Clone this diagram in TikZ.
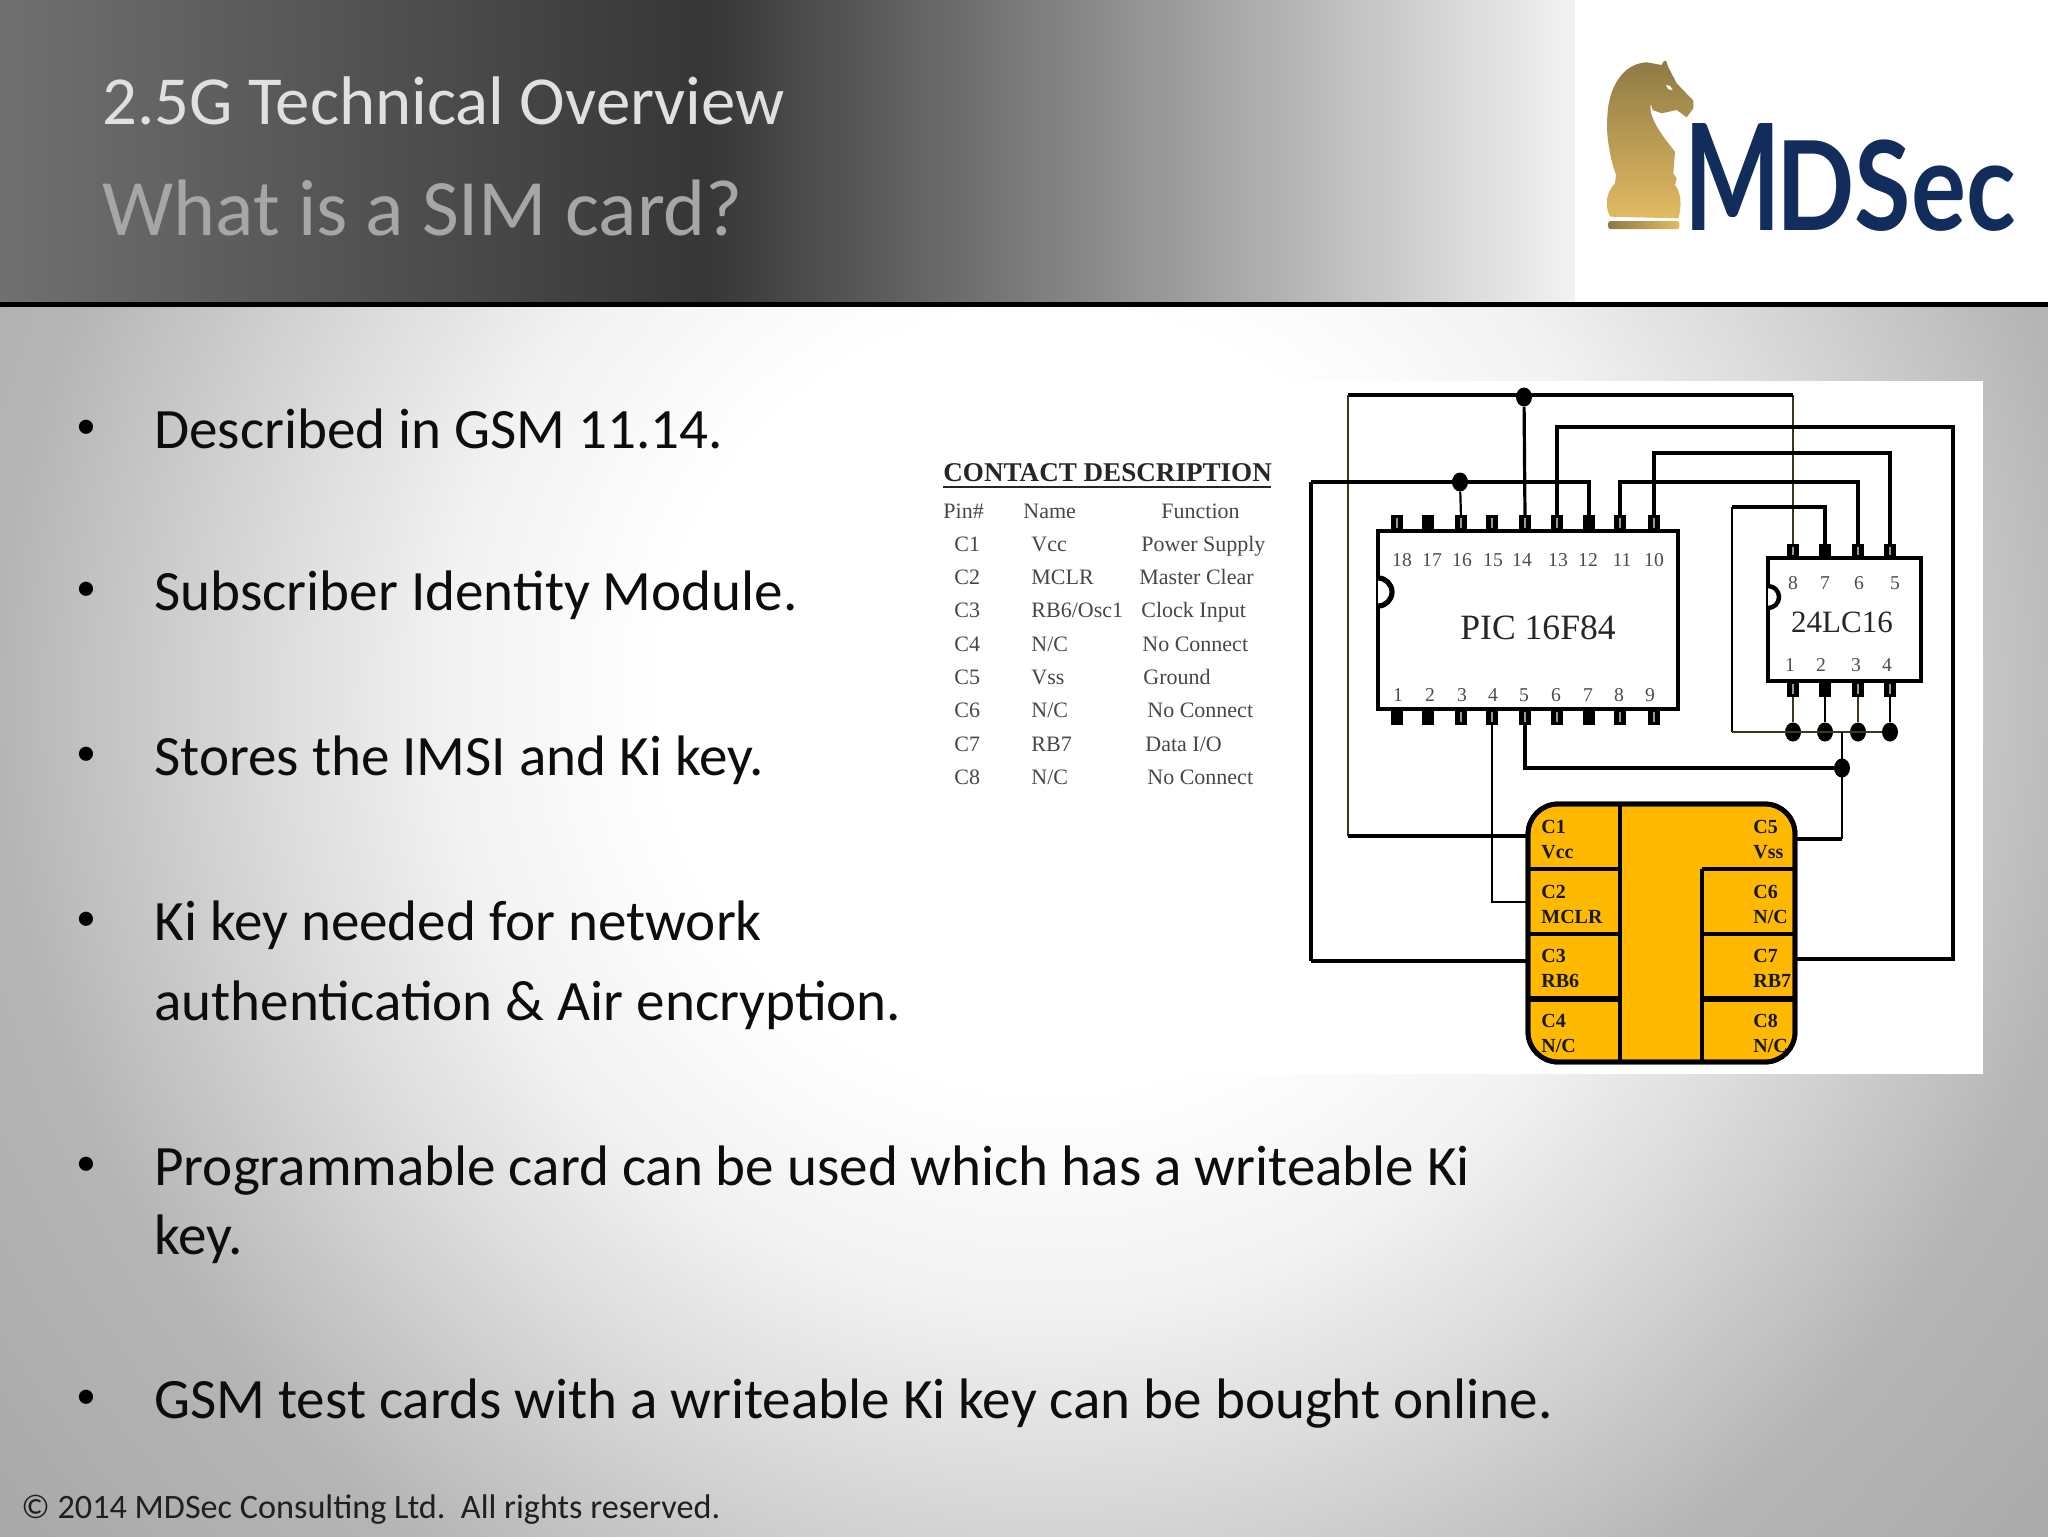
\documentclass[tikz,border=0pt]{standalone}
\usepackage{fontspec}
\setmainfont{Carlito}
\newfontfamily\tms{Liberation Serif}
\newfontfamily\logofont{Lato}
\usetikzlibrary{calc,shapes.geometric}
\definecolor{navy}{HTML}{122D5B}
\definecolor{chip}{HTML}{FFB900}
\definecolor{golddark}{HTML}{8F7A45}
\definecolor{goldlight}{HTML}{E2BA62}
\definecolor{wirebrown}{HTML}{3F3718}
\pgfdeclareradialshading{slidebg}{\pgfpoint{0bp}{0bp}}{%
 color(0bp)=(white);color(6.5bp)=(white);color(10bp)=(black!5);color(13bp)=(black!14);color(17.5bp)=(black!29);color(22.5bp)=(black!34);color(50bp)=(black!36)}
\pgfdeclarehorizontalshading{headbg}{100bp}{%
 color(0bp)=(black!56);color(25bp)=(black!56);color(42.2bp)=(black!79);color(64bp)=(black!3);color(65bp)=(white);color(100bp)=(white)}
\tikzset{
 body/.style={anchor=base west,font=\fontsize{28.55}{30}\selectfont,text=black!95,inner sep=0pt},
 bul/.style={anchor=base,font=\fontsize{20}{22}\selectfont,text=black,inner sep=0pt},
 wire/.style={draw=black,line width=1.6pt,line join=miter},
 thin wire/.style={draw=black,line width=1.1pt},
 brown wire/.style={draw=wirebrown,line width=1.3pt},
 ic/.style={draw=black,line width=2.2pt,fill=white},
 pin/.style={fill=black,minimum width=6.2pt,minimum height=8pt,inner sep=0pt,draw=none},
 slit/.style={fill=black!40,minimum width=1.3pt,minimum height=5pt,inner sep=0pt,draw=none},
 dot/.style={fill=black,ellipse,inner sep=0pt,minimum width=8pt,minimum height=9.5pt},
 pinnum/.style={font=\tms\fontsize{9.8}{10}\selectfont,text=black!70,inner sep=0pt},
 tb/.style={anchor=base west,font=\tms\fontsize{11}{11}\selectfont,text=black!72,inner sep=0pt},
 cl/.style={anchor=west,font=\tms\bfseries\fontsize{10}{10}\selectfont,text=black!90,inner sep=0pt},
}
\begin{document}
\begin{tikzpicture}[x=0.5pt,y=-0.5pt]
\useasboundingbox (0,0) rectangle (2048,1536);
% background
\begin{scope}
\clip (0,300) rectangle (2048,1536);
\shade[shading=slidebg] (-450,-800) rectangle (2550,2200);
\end{scope}
\shade[shading=headbg] (0,0) rectangle (2048,302);
\fill[white] (1575,0) rectangle (2048,302);
\fill[black] (0,302) rectangle (2048,306.5);
% picture panel
\fill[white] (928,381) rectangle (1983,1074);
% titles
\node[anchor=base west,inner sep=0pt,text=black!12,font=\fontsize{34.4}{35}\selectfont] (t1) at (102,125) {2.5G Technical Overview};
\node[anchor=base west,inner sep=0pt,text=black!35,font=\fontsize{40}{40}\selectfont] (t2) at (102,235) {What is a SIM card?};
% logo
\begin{scope}[shift={(1580,30)},x=0.16667pt,y=-0.16667pt]
\shade[top color=golddark,bottom color=goldlight]
 (90,560) .. controls (75,530) and (75,490) .. (105,460) -- (108,435) .. controls (85,370) and (78,300) .. (82,260)
 .. controls (85,170) and (130,100) .. (200,97) -- (245,105) -- (250,95) -- (258,92) -- (265,112) -- (290,160) -- (340,212) -- (340,235) -- (320,262)
 -- (290,240) -- (245,250) -- (218,240) -- (212,220) .. controls (205,260) and (240,310) .. (285,365) -- (280,430) -- (290,445) -- (285,465)
 .. controls (305,490) and (305,530) .. (295,565) -- cycle;
\fill[white] (258,165) -- (270,168) -- (278,180) -- (265,178) -- cycle;
\shade[left color=golddark,right color=goldlight,rounded corners=1pt] (85,573) rectangle (298,597);
\end{scope}
\node[anchor=base west,inner sep=0pt,text=navy,font=\logofont\bfseries\fontsize{74}{74}\selectfont] (logom) at (1684,230) {\scalebox{0.69}[1]{M}};
\node[anchor=base west,inner sep=0pt,text=navy,font=\logofont\bfseries\fontsize{62}{62}\selectfont] (logod) at (1776,230) {\scalebox{0.83}[1]{DSec}};
% body
\node[bul] (b1) at (86,438) {•};
\node[body] (l1) at (154,448.5) {Described in GSM 11.14.};
\node[bul] (b2) at (86,600) {•};
\node[body] (l2) at (154,610.5) {Subscriber Identity Module.};
\node[bul] (b3) at (86,765) {•};
\node[body] (l3) at (154,775.5) {Stores the IMSI and Ki key.};
\node[bul] (b4) at (86,930) {•};
\node[body] (l4) at (154,940.5) {Ki key needed for network};
\node[body] (l5) at (154,1020.5) {authentication \& Air encryption.};
\node[bul] (b5) at (86,1175) {•};
\node[body] (l6) at (154,1185.5) {Programmable card can be used which has a writeable Ki};
\node[body] (l7) at (154,1254) {key.};
\node[bul] (b6) at (86,1408) {•};
\node[body] (l8) at (154,1418.5) {GSM test cards with a writeable Ki key can be bought online.};
\node[anchor=base west,inner sep=0pt,text=black!88,font=\fontsize{17.1}{18}\selectfont] (foot) at (21,1518) {© 2014 MDSec Consulting Ltd.\ \ All rights reserved.};
% table
\node[anchor=base west,inner sep=0pt,text=black!85,font=\tms\bfseries\fontsize{13.55}{15}\selectfont] (th) at (943,481) {CONTACT DESCRIPTION};
\draw[black!85,line width=1pt] (943,487) -- (1271,487);
\node[tb] (h1) at (943,518) {Pin\#};
\node[tb] (h2) at (1023,518) {Name};
\node[tb] (h3) at (1161,518) {Function};
\foreach \i/\y/\nm/\nx/\fn/\fx in {1/551/Vcc/1031/Power Supply/1141,2/584/MCLR/1031/Master Clear/1139,3/617/RB6\slash Osc1/1031/Clock Input/1141,4/651/N\slash C/1031/No Connect/1142,5/684/Vss/1031/Ground/1143,6/717/N\slash C/1031/No Connect/1147,7/751/RB7/1031/Data I\slash O/1145,8/784/N\slash C/1031/No Connect/1147}{
 \node[tb] (tc\i) at (954,\y) {C\i};
 \node[tb] (tn\i) at (\nx,\y) {\nm};
 \node[tb] (tf\i) at (\fx,\y) {\fn};
}
% coordinates
\foreach \n/\x in {18/1397,17/1428,16/1461,15/1492,14/1525,13/1557,12/1589,11/1620,10/1654}{\coordinate (p\n) at (\x,518);}
\foreach \n/\x in {1/1397,2/1428,3/1461,4/1492,5/1525,6/1557,7/1589,8/1620,9/1654}{\coordinate (p\n) at (\x,725);}
\foreach \n/\x in {8/1793,7/1825,6/1858,5/1890}{\coordinate (e\n) at (\x,545);}
\foreach \n/\x in {1/1793,2/1825,3/1858,4/1890}{\coordinate (e\n) at (\x,697);}
% nodes for ICs
\node[ic,minimum width=150pt,minimum height=89pt,inner sep=0pt] (pic) at (1528,620) {};
\node[ic,minimum width=76.5pt,minimum height=61.5pt,inner sep=0pt] (eep) at (1844.5,619.5) {};
% card
\draw[draw=black,line width=2.4pt,fill=chip,rounded corners=15pt] (1528,804) rectangle (1795,1062);
\coordinate (c1) at (1528,836);
\coordinate (c2) at (1528,902);
\coordinate (c3) at (1528,961);
\coordinate (c5) at (1795,839);
\coordinate (c7) at (1795,959);
\foreach \n/\a/\b/\ya in {1/C1/Vcc/827,2/C2/MCLR/892,3/C3/RB6/956,4/C4/N\slash C/1021}{
 \pgfmathtruncatemacro{\yb}{\ya+25}
 \node[cl] (la\n) at (1541,\ya) {\a};
 \node[cl] (lb\n) at (1541,\yb) {\b};
}
\foreach \n/\a/\b/\ya in {5/C5/Vss/827,6/C6/N\slash C/892,7/C7/RB7/956,8/C8/N\slash C/1021}{
 \pgfmathtruncatemacro{\yb}{\ya+25}
 \node[cl] (la\n) at (1753,\ya) {\a};
 \node[cl] (lb\n) at (1753,\yb) {\b};
}
\draw[draw=black,line width=2.4pt,rounded corners=15pt] (1528,804) rectangle (1795,1062);
\draw[black,line width=2.2pt] (1620,804) -- (1620,1062);
\draw[black,line width=2.2pt] (1702,1062) -- (1702,869);
\draw[black,line width=2pt] (1528,869) -- (1620,869) (1702,869) -- (1795,869);
\draw[black,line width=2pt] (1528,934) -- (1620,934) (1702,934) -- (1795,934);
\draw[black,line width=3pt] (1528,999) -- (1620,999) (1702,999) -- (1795,999);
% junctions
\node[dot] (jv) at (1524,397) {};
\node[dot] (jc) at (1460,482) {};
\node[dot] (j1) at (1793,732) {};
\node[dot] (j2) at (1825,732) {};
\node[dot] (j3) at (1858,732) {};
\node[dot] (j4) at (1890,732) {};
\node[dot] (jg) at (1842,768) {};
\coordinate (tl) at (1348,395);
\coordinate (tr) at (1793,395);
\coordinate (wc) at (1311,482);
\coordinate (h13) at (1557,427);
\coordinate (r13) at (1953,427);
\coordinate (r7) at (1953,959);
\coordinate (h10) at (1654,453);
\coordinate (h5) at (1890,453);
\coordinate (h12) at (1589,482);
\coordinate (h11) at (1620,482);
\coordinate (h6) at (1858,482);
\coordinate (g1) at (1732,507);
\coordinate (g2) at (1825,507);
\coordinate (g3) at (1732,732);
\coordinate (g4) at (1842,732);
\coordinate (g5) at (1842,839);
\coordinate (g6) at (1525,768);
\coordinate (m4) at (1492,902);
\coordinate (w3) at (1311,961);
\coordinate (w1) at (1348,836);
% wires
\draw[brown wire] (tr) -- (e8);
\draw[wire] (tl) -- (tr);
\draw[brown wire] (tl) -- (w1);
\draw[wire] (w1) -- (c1);
\draw[wire] (jv) -- (p14);
\draw[wire] (p13) -- (h13) -- (r13) -- (r7) -- (c7);
\draw[wire] (p10) -- (h10) -- (h5) -- (e5);
\draw[wire] (wc) -- (h12) -- (p12);
\draw[thin wire] (jc) -- (p16);
\draw[wire] (w3) -- (wc);
\draw[wire] (w3) -- (c3);
\draw[wire] (p11) -- (h11) -- (h6) -- (e6);
\draw[thin wire] (g3) -- (g1);
\draw[wire] (g1) -- (g2) -- (e7);
\draw[brown wire] (g3) -- (j4);
\draw[brown wire] (e1) -- (j1) (e3) -- (j3);
\draw[thin wire] (e2) -- (j2) (e4) -- (j4);
\draw[wire] (p5) -- (g6) -- (jg);
\draw[thin wire] (g4) -- (g5);
\draw[wire] (g5) -- (c5);
\draw[thin wire] (p4) -- (m4) -- (c2);
% pins
\foreach \n/\x in {18/1397,17/1428,16/1461,15/1492,14/1525,13/1557,12/1589,11/1620,10/1654}{\node[pin] (tp\n) at (\x,523) {};}
\foreach \n/\x in {1/1397,2/1428,3/1461,4/1492,5/1525,6/1557,7/1589,8/1620,9/1654}{\node[pin] (bp\n) at (\x,717) {};}
\foreach \n/\x in {8/1793,7/1825,6/1858,5/1890}{\node[pin,minimum height=7pt] (te\n) at (\x,551) {};}
\foreach \n/\x in {1/1793,2/1825,3/1858,4/1890}{\node[pin,minimum height=8pt] (be\n) at (\x,689) {};}
\foreach \n in {18,16,15,14,13,11,10}{\node[slit] (st\n) at (tp\n) {};}
\foreach \n in {3,4,5,6,8,9}{\node[slit] (sb\n) at (bp\n) {};}
\foreach \n in {8,6,5}{\node[slit,minimum height=4pt] (se\n) at (te\n) {};}
\foreach \n in {1,3,4}{\node[slit] (sf\n) at (be\n) {};}
% notches
\draw[ic,line width=2.6pt] (1378,606) arc (-90:90:7pt and 7pt);
\draw[ic,line width=2.2pt] (1768,608) arc (-90:90:5.5pt and 5.5pt);
% pin numbers
\foreach \n/\x in {18/1402,17/1432,16/1462,15/1493,14/1522,13/1558,12/1588,11/1622,10/1654}{\node[pinnum] (nt\n) at (\x,560) {\n};}
\foreach \n/\x in {1/1398,2/1430,3/1462,4/1493,5/1524,6/1556,7/1588,8/1619,9/1650}{\node[pinnum] (nb\n) at (\x,695) {\n};}
\foreach \n/\x in {8/1793,7/1825,6/1859,5/1895}{\node[pinnum] (et\n) at (\x,583) {\n};}
\foreach \n/\x in {1/1790,2/1821,3/1856,4/1887}{\node[pinnum] (eb\n) at (\x,665) {\n};}
\node[inner sep=0pt,text=black!85,font=\tms\fontsize{17.8}{18}\selectfont] (picl) at (1538,628) {PIC 16F84};
\node[inner sep=0pt,text=black!85,font=\tms\fontsize{15.5}{16}\selectfont] (eepl) at (1842,622) {24LC16};
\end{tikzpicture}
\end{document}
